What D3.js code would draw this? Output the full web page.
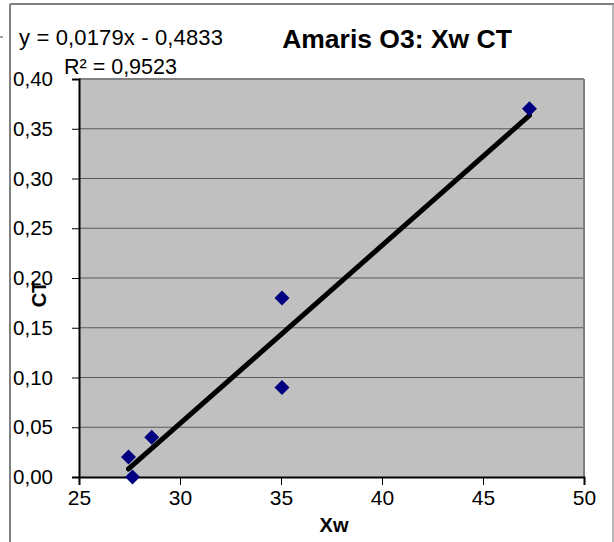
<!DOCTYPE html>
<html><head><meta charset="utf-8">
<script src="https://cdn.jsdelivr.net/npm/d3@7"></script>
<style>body{margin:0;background:#fff}svg{display:block;font-family:"Liberation Sans",Arial,sans-serif}</style>
</head><body><svg id="c" width="614" height="542"></svg>
<script>
const xw = [27.45, 27.65, 28.6, 35.05, 35.05, 47.3];
const ct = [0.02, 0.00, 0.04, 0.18, 0.09, 0.37];
const xTicks = [25, 30, 35, 40, 45, 50];
const yTicks = [0, 0.05, 0.10, 0.15, 0.20, 0.25, 0.30, 0.35, 0.40];
const slope = 0.0179, intercept = -0.4833;
const title = "Amaris O3: Xw CT";
const eqText = "y = 0,0179x - 0,4833";
const r2Text = "R² = 0,9523";

const svg = d3.select("#c");
const L = 79, R = 584, T = 79, B = 477;
const x = d3.scaleLinear().domain([25, 50]).range([L, R]);
const y = d3.scaleLinear().domain([0, 0.40]).range([B, T]);
const fmt = v => d3.format(".2f")(v).replace(".", ",");

// chart frame
svg.append("line").attr("x1",10).attr("x2",10).attr("y1",4).attr("y2",542).attr("stroke","#808080").attr("stroke-width",2);
svg.append("line").attr("x1",10).attr("x2",614).attr("y1",4).attr("y2",4).attr("stroke","#808080").attr("stroke-width",2);
svg.append("line").attr("x1",613).attr("x2",613).attr("y1",4).attr("y2",542).attr("stroke","#a0a0a0").attr("stroke-width",1.5);
svg.append("line").attr("x1",0).attr("x2",3).attr("y1",37).attr("y2",37).attr("stroke","#808080").attr("stroke-width",1.5);

// plot area
svg.append("rect").attr("x",L).attr("y",T).attr("width",R-L).attr("height",B-T).attr("fill","#c0c0c0");
svg.append("g").selectAll("line").data(yTicks.slice(1)).join("line")
  .attr("x1",L).attr("x2",R).attr("y1",d=>y(d)).attr("y2",d=>y(d))
  .attr("stroke","#5a5a5a").attr("stroke-width",1);
svg.append("line").attr("x1",R).attr("x2",R).attr("y1",T).attr("y2",B).attr("stroke","#808080").attr("stroke-width",2);
svg.append("line").attr("x1",L).attr("x2",R).attr("y1",T).attr("y2",T).attr("stroke","#808080").attr("stroke-width",2);

// axes
const yAxis = d3.axisLeft(y).tickValues(yTicks).tickFormat(fmt).tickSize(7).tickPadding(19);
const gy = svg.append("g").attr("transform",`translate(${L},0)`).call(yAxis);
gy.select(".domain").attr("stroke","#000").attr("stroke-width",2);
gy.selectAll(".tick line").attr("stroke","#000");
gy.selectAll("text").attr("font-size",20.5).attr("fill","#000").attr("font-family","Liberation Sans, Arial, sans-serif");

const xAxis = d3.axisBottom(x).tickValues(xTicks).tickFormat(d3.format("d")).tickSize(8).tickPadding(5);
const gx = svg.append("g").attr("transform",`translate(0,${B})`).call(xAxis);
gx.select(".domain").attr("stroke","#000").attr("stroke-width",2);
gx.selectAll(".tick line").attr("stroke","#000");
gx.selectAll("text").attr("font-size",21).attr("fill","#000").attr("font-family","Liberation Sans, Arial, sans-serif");

// trend line
const xmin = d3.min(xw), xmax = d3.max(xw);
svg.append("line").attr("x1",x(xmin)).attr("y1",y(slope*xmin+intercept))
  .attr("x2",x(xmax)).attr("y2",y(slope*xmax+intercept))
  .attr("stroke","#000").attr("stroke-width",5).attr("stroke-linecap","round");

// markers
svg.append("g").selectAll("path").data(xw.map((v,i)=>[v,ct[i]])).join("path")
  .attr("d", d3.symbol().type(d3.symbolSquare).size(112))
  .attr("transform", d=>`translate(${x(d[0])},${y(d[1])}) rotate(45)`)
  .attr("fill","#000080");

// texts
svg.append("text").attr("x",397).attr("y",48).attr("text-anchor","middle")
  .attr("font-size",26.5).attr("font-weight","bold").text(title);
svg.append("text").attr("x",19).attr("y",45).attr("font-size",22).attr("textLength",204).text(eqText);
svg.append("text").attr("x",64).attr("y",74).attr("font-size",21.5).text(r2Text);
svg.append("text").attr("x",334).attr("y",532).attr("text-anchor","middle")
  .attr("font-size",20).attr("font-weight","bold").text("Xw");
svg.append("text").attr("transform","translate(46,294) rotate(-90)").attr("text-anchor","middle")
  .attr("font-size",20).attr("font-weight","bold").text("CT");
</script></body></html>
